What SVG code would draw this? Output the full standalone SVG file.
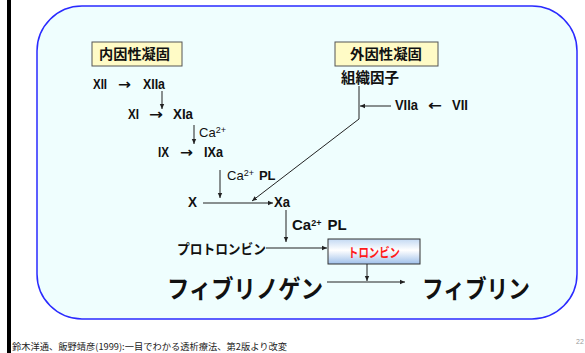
<svg xmlns="http://www.w3.org/2000/svg" width="585" height="353" viewBox="0 0 585 353">
<defs>
<style>
.lat{font-family:"Liberation Sans",Arial,sans-serif;font-weight:bold;font-size:15px;fill:#111}
.arr{font-family:"DejaVu Sans",sans-serif;font-weight:bold;font-size:14px;fill:#111}
.latr{font-family:"Liberation Sans",Arial,sans-serif;font-size:13px;fill:#111}
.jp{font-family:"Noto Sans CJK JP","Liberation Sans",sans-serif;font-weight:bold;fill:#111}
.ln{stroke:#222;stroke-width:1;fill:none}
</style>
<marker id="ah" markerWidth="6" markerHeight="6" refX="5" refY="3" orient="auto" markerUnits="userSpaceOnUse">
<path d="M0,0.8 L5,3 L0,5.2 Z" fill="#222"/>
</marker>
<linearGradient id="tg" x1="0" y1="0" x2="0" y2="1">
<stop offset="0" stop-color="#c3d9f3"/>
<stop offset="0.45" stop-color="#ffffff"/>
<stop offset="1" stop-color="#9fc0ea"/>
</linearGradient>
</defs>
<rect x="0" y="0" width="585" height="353" fill="#ffffff"/>
<rect x="7" y="0" width="4" height="353" fill="#000"/>
<rect x="37" y="6" width="540" height="313" rx="45" ry="45" fill="#effefe" stroke="#2a2aff" stroke-width="1.5"/>

<g id="intrinsic">
<rect x="92" y="42" width="90" height="24" fill="#fffbc6" stroke="#555" stroke-width="1"/>
<text class="jp" x="99" y="59" font-size="14" textLength="71" lengthAdjust="spacingAndGlyphs">内因性凝固</text>
</g>
<g id="extrinsic">
<rect x="335" y="42" width="103" height="24" fill="#fffbc6" stroke="#555" stroke-width="1"/>
<text class="jp" x="350" y="59" font-size="14" textLength="72" lengthAdjust="spacingAndGlyphs">外因性凝固</text>
</g>
<g id="tissue"><text class="jp" x="341" y="83" font-size="14.5" textLength="58" lengthAdjust="spacingAndGlyphs">組織因子</text></g>

<g id="f12"><text class="lat" x="93" y="89" textLength="14" lengthAdjust="spacingAndGlyphs">XII</text></g>
<g id="a12"><text class="arr" x="118" y="89" textLength="13" lengthAdjust="spacingAndGlyphs">→</text></g>
<g id="f12a"><text class="lat" x="143" y="89" textLength="22" lengthAdjust="spacingAndGlyphs">XIIa</text></g>

<g id="f11"><text class="lat" x="128" y="119" textLength="11" lengthAdjust="spacingAndGlyphs">XI</text></g>
<g id="a11"><text class="arr" x="149" y="119" textLength="14" lengthAdjust="spacingAndGlyphs">→</text></g>
<g id="f11a"><text class="lat" x="173" y="119" textLength="20" lengthAdjust="spacingAndGlyphs">XIa</text></g>
<g id="ca1"><text class="latr" x="199" y="137" font-size="12.5">Ca<tspan font-size="9" dy="-4">2+</tspan></text></g>

<g id="f9"><text class="lat" x="158" y="157" textLength="11" lengthAdjust="spacingAndGlyphs">IX</text></g>
<g id="a9"><text class="arr" x="180" y="157" textLength="13" lengthAdjust="spacingAndGlyphs">→</text></g>
<g id="f9a"><text class="lat" x="204" y="157" textLength="19" lengthAdjust="spacingAndGlyphs">IXa</text></g>
<g id="ca2"><text class="latr" x="227" y="180" font-size="12.5">Ca<tspan font-size="9" dy="-4">2+</tspan><tspan dy="4" font-weight="bold" dx="5" font-size="13">PL</tspan></text></g>

<g id="f10"><text class="lat" x="188" y="207" textLength="9" lengthAdjust="spacingAndGlyphs">X</text></g>
<g id="f10a"><text class="lat" x="274" y="207" textLength="16" lengthAdjust="spacingAndGlyphs">Xa</text></g>

<g id="f7a"><text class="lat" x="395" y="110" textLength="23" lengthAdjust="spacingAndGlyphs">VIIa</text></g>
<g id="a7"><text class="arr" x="428" y="110" textLength="14" lengthAdjust="spacingAndGlyphs">←</text></g>
<g id="f7"><text class="lat" x="452" y="110" textLength="16" lengthAdjust="spacingAndGlyphs">VII</text></g>

<g id="ca3"><text class="lat" x="292" y="230" font-size="13">Ca<tspan font-size="9" dy="-4">2+</tspan><tspan dy="4" dx="6">PL</tspan></text></g>

<g id="prothrombin"><text class="jp" x="177" y="254" font-size="13.5" textLength="89" lengthAdjust="spacingAndGlyphs">プロトロンビン</text></g>
<g id="thrombin">
<rect x="328" y="239" width="92" height="25" fill="url(#tg)" stroke="#333" stroke-width="1"/>
<text x="348" y="257" font-family="Noto Sans CJK JP,sans-serif" font-weight="bold" font-size="13" fill="#ff1a1a" textLength="52" lengthAdjust="spacingAndGlyphs">トロンビン</text>
</g>
<g id="fibrinogen"><text class="jp" x="167" y="298" font-size="25" font-weight="900" textLength="156" lengthAdjust="spacingAndGlyphs">フィブリノゲン</text></g>
<g id="fibrin"><text class="jp" x="422" y="298" font-size="25" font-weight="900" textLength="108" lengthAdjust="spacingAndGlyphs">フィブリン</text></g>

<g id="connectors">
<line class="ln" x1="162" y1="91" x2="162" y2="109" marker-end="url(#ah)"/>
<line class="ln" x1="194" y1="125" x2="194" y2="144" marker-end="url(#ah)"/>
<line class="ln" x1="220" y1="170" x2="220" y2="198" marker-end="url(#ah)"/>
<line class="ln" x1="203" y1="203" x2="273" y2="203" marker-end="url(#ah)"/>
<polyline class="ln" points="359,86 359,119 252,201" marker-end="url(#ah)"/>
<line class="ln" x1="391" y1="106" x2="360" y2="106" marker-end="url(#ah)"/>
<line class="ln" x1="286" y1="210" x2="286" y2="242" marker-end="url(#ah)"/>
<line class="ln" x1="266" y1="248" x2="327" y2="248" marker-end="url(#ah)"/>
<line class="ln" x1="367" y1="264" x2="367" y2="281" marker-end="url(#ah)"/>
<line class="ln" x1="327" y1="282" x2="405" y2="282" marker-end="url(#ah)"/>
</g>

<text x="12" y="350" font-family="Noto Sans CJK JP,sans-serif" font-size="9" fill="#222" textLength="275" lengthAdjust="spacingAndGlyphs">鈴木洋通、飯野靖彦(1999):一目でわかる透析療法、第2版より改変</text>
<text x="576" y="344" font-family="Liberation Sans,sans-serif" font-size="7" fill="#999">22</text>
</svg>
